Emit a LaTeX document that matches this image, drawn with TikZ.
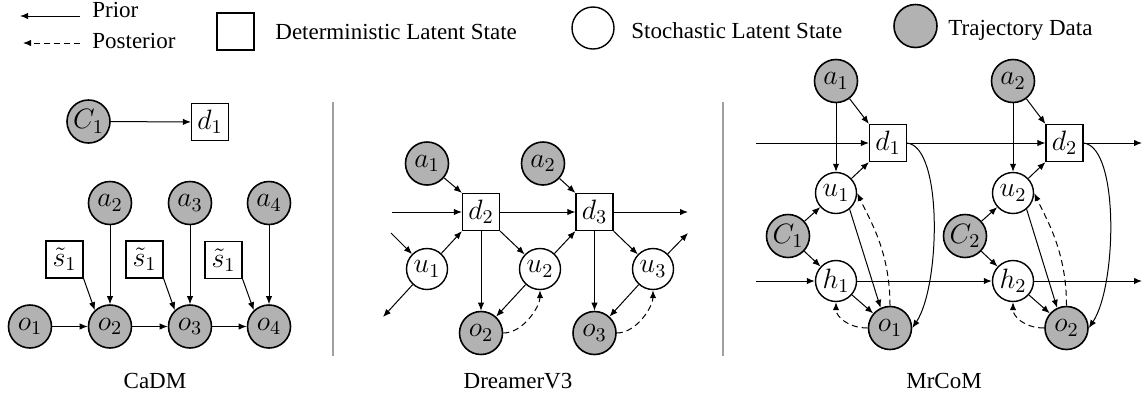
\RequirePackage{fix-cm}
\documentclass[tikz,border=0pt]{standalone}
\usepackage{fontspec}
\setmainfont{Liberation Serif}
\usetikzlibrary{arrows.meta}

\definecolor{trajgray}{RGB}{178,178,178}
\definecolor{sepgray}{RGB}{160,160,160}
\newcommand\varfont{\fontsize{14}{16}\selectfont}
\newcommand\capfont{\fontsize{11.5}{13}\selectfont}

\tikzset{
  obs/.style={circle, draw, line width=0.8pt, fill=trajgray, minimum size=21.5pt, inner sep=0pt, font=\varfont},
  lat/.style={circle, draw, line width=0.7pt, fill=white, minimum size=20.5pt, inner sep=0pt, font=\varfont},
  det/.style={rectangle, draw, line width=0.6pt, fill=white, minimum size=18.5pt, inner sep=0pt, font=\varfont},
  txt/.style={anchor=base west, inner sep=0pt, font=\capfont},
  paneltitle/.style={anchor=base, inner sep=0pt, font=\capfont},
  prior/.style={-{Latex[length=4pt,width=3.2pt]}, line width=0.5pt},
  post/.style={prior, dash pattern=on 3pt off 2pt},
  sep/.style={draw=sepgray, line width=0.9pt}
}

\begin{document}
\begin{tikzpicture}[x=0.5pt, y=-0.5pt]
\useasboundingbox (0,0) rectangle (1144,403);

% ---------- legend ----------
\coordinate (pA) at (80,16);
\coordinate (pB) at (20,16);
\coordinate (qA) at (80,43);
\coordinate (qB) at (23,43);
\draw[prior] (pA) -- (pB);
\draw[post] (qA) -- (qB);
\node[txt] (lprior) at (92,17) {Prior};
\node[txt] (lpost) at (92,48) {Posterior};
\node[det] (ldet) at (235.5,31.5) {};
\node[txt] (ldett) at (275,39) {Deterministic Latent State};
\node[lat, minimum size=21pt] (llat) at (593,28) {};
\node[txt] (llatt) at (631,38) {Stochastic Latent State};
\node[obs] (lobs) at (915.5,26) {};
\node[txt] (lobst) at (948,35) {Trajectory Data};

% ---------- separators ----------
\coordinate (s1t) at (333,102);
\coordinate (s1b) at (333,356);
\coordinate (s2t) at (723,102);
\coordinate (s2b) at (723,356);
\draw[sep] (s1t) -- (s1b);
\draw[sep] (s2t) -- (s2b);

% ---------- CaDM ----------
\node[obs] (cC1) at (88.5,121.5) {$C_1$};
\node[det] (cd1) at (210,122) {$d_1$};
\node[obs] (ca2) at (110,203) {$a_2$};
\node[obs] (ca3) at (190,203) {$a_3$};
\node[obs] (ca4) at (269,203) {$a_4$};
\node[det] (cs2) at (64.5,259.5) {$\tilde{s}_1$};
\node[det] (cs3) at (144.5,259.5) {$\tilde{s}_1$};
\node[det] (cs4) at (223.5,260) {$\tilde{s}_1$};
\node[obs] (co1) at (30,326.5) {$o_1$};
\node[obs] (co2) at (110,326.5) {$o_2$};
\node[obs] (co3) at (190,326.5) {$o_3$};
\node[obs] (co4) at (269,326.5) {$o_4$};
\draw[prior] (cC1) -- (cd1);
\draw[prior] (ca2) -- (co2);
\draw[prior] (ca3) -- (co3);
\draw[prior] (ca4) -- (co4);
\draw[prior] (cs2.south east) -- (co2.133);
\draw[prior] (cs3.south east) -- (co3.133);
\draw[prior] (cs4.south east) -- (co4.133);
\draw[prior] (co1) -- (co2);
\draw[prior] (co2) -- (co3);
\draw[prior] (co3) -- (co4);
\node[paneltitle] (capA) at (155,388) {CaDM};

% ---------- DreamerV3 ----------
\node[obs] (da1) at (427,163.5) {$a_1$};
\node[obs] (da2) at (543,163.5) {$a_2$};
\node[det] (dd2) at (481,212) {$d_2$};
\node[det] (dd3) at (594.5,212) {$d_3$};
\node[lat] (du1) at (427,269) {$u_1$};
\node[lat] (du2) at (540,269) {$u_2$};
\node[lat] (du3) at (653,269) {$u_3$};
\node[obs] (do2) at (481,333) {$o_2$};
\node[obs] (do3) at (594.5,333) {$o_3$};
\coordinate (dinD) at (392,212);
\coordinate (doutD) at (688,212);
\coordinate (dinU) at (391,233);
\coordinate (doutU1) at (383,317);
\coordinate (doutU3) at (688,233);
\draw[prior] (da1) -- (dd2.north west);
\draw[prior] (da2) -- (dd3.north west);
\draw[prior] (dinD) -- (dd2);
\draw[prior] (dd2) -- (dd3);
\draw[prior] (dd3) -- (doutD);
\draw[prior] (dinU) -- (du1);
\draw[prior] (du1) -- (dd2.south west);
\draw[prior] (du1) -- (doutU1);
\draw[prior] (dd2.south east) -- (du2);
\draw[prior] (dd2) -- (do2);
\draw[prior] (du2) -- (do2);
\draw[prior] (du2) -- (dd3.south west);
\draw[prior] (dd3.south east) -- (du3);
\draw[prior] (dd3) -- (do3);
\draw[prior] (du3) -- (do3);
\draw[prior] (du3) -- (doutU3);
\draw[post] (do2.east) .. controls +(20,0) and +(0,16) .. (du2.south);
\draw[post] (do3.east) .. controls +(20,0) and +(0,16) .. (du3.south);
\node[paneltitle] (capB) at (518,388) {DreamerV3};

% ---------- MrCoM ----------
\node[obs] (ma1) at (836,81) {$a_1$};
\node[obs] (ma2) at (1013,81) {$a_2$};
\node[det] (md1) at (888,143) {$d_1$};
\node[det] (md2) at (1064.5,143) {$d_2$};
\node[lat] (mu1) at (836,193) {$u_1$};
\node[lat] (mu2) at (1013,193) {$u_2$};
\node[obs] (mC1) at (788,236) {$C_1$};
\node[obs] (mC2) at (965,236) {$C_2$};
\node[lat] (mh1) at (836,281) {$h_1$};
\node[lat] (mh2) at (1013,281) {$h_2$};
\node[obs] (mo1) at (890,328) {$o_1$};
\node[obs] (mo2) at (1066.5,328) {$o_2$};
\coordinate (minD) at (756,143);
\coordinate (moutD) at (1142,143);
\coordinate (minH) at (756,281);
\coordinate (moutH) at (1142,281);
% transitions along the two chains
\draw[prior] (minD) -- (md1);
\draw[prior] (md1) -- (md2);
\draw[prior] (md2) -- (moutD);
\draw[prior] (minH) -- (mh1);
\draw[prior] (mh1) -- (mh2);
\draw[prior] (mh2) -- (moutH);
% per-step structure
\foreach \i in {1,2} {
  \draw[prior] (ma\i) -- (mu\i);
  \draw[prior] (ma\i) -- (md\i.north west);
  \draw[prior] (mu\i) -- (md\i.south west);
  \draw[prior] (mC\i) -- (mu\i);
  \draw[prior] (mC\i) -- (mh\i);
  \draw[prior] (mu\i.-50) -- (mo\i.115);
  \draw[prior] (mh\i) -- (mo\i);
  \draw[prior] (md\i.east) .. controls +(36,4) and +(28,-42) .. (mo\i.east);
  \draw[post] (mo\i.north) .. controls +(0,-55) and +(12,26) .. (mu\i.east);
  \draw[post] (mo\i.west) .. controls +(-20,0) and +(0,14) .. (mh\i.south);
}
\node[paneltitle] (capC) at (944,388) {MrCoM};
\end{tikzpicture}
\end{document}
